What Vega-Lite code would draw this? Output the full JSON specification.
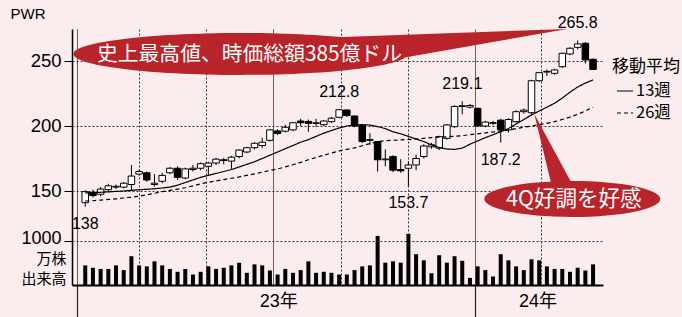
{
  "$schema": "https://vega.github.io/schema/vega-lite/v6.json",
  "width": 531,
  "height": 256,
  "autosize": {"type": "none"},
  "padding": {"left": 72, "top": 29, "right": 79, "bottom": 32},
  "background": "#fbeced",
  "config": {"view": {"stroke": null}},
  "datasets": {
    "candles": [
      {"d":"2023-01-11","o":141,"h":150.5,"l":138,"c":149.5,"v":446},
      {"d":"2023-01-18","o":149,"h":151,"l":145,"c":146.5,"v":392},
      {"d":"2023-01-25","o":147.5,"h":153,"l":146,"c":151.5,"v":365},
      {"d":"2023-02-01","o":151,"h":155.5,"l":150,"c":154,"v":365},
      {"d":"2023-02-08","o":153,"h":155,"l":151.5,"c":153.6,"v":446},
      {"d":"2023-02-15","o":153,"h":157,"l":152,"c":156,"v":339},
      {"d":"2023-02-22","o":155,"h":170,"l":150,"c":161.5,"v":654},
      {"d":"2023-03-01","o":163,"h":166.5,"l":162,"c":165,"v":446},
      {"d":"2023-03-08","o":164,"h":165,"l":157,"c":158.5,"v":423},
      {"d":"2023-03-15","o":155,"h":163,"l":153.5,"c":156,"v":538},
      {"d":"2023-03-22","o":157.5,"h":164,"l":156,"c":162,"v":446},
      {"d":"2023-03-29","o":164,"h":168.5,"l":163,"c":167.5,"v":365},
      {"d":"2023-04-05","o":167.5,"h":169,"l":158.5,"c":160.5,"v":300},
      {"d":"2023-04-12","o":160,"h":168,"l":159,"c":167,"v":365},
      {"d":"2023-04-19","o":166.5,"h":170,"l":165,"c":167.5,"v":238},
      {"d":"2023-04-26","o":167.5,"h":172,"l":166,"c":171,"v":300},
      {"d":"2023-05-03","o":169,"h":172.5,"l":162.5,"c":171.5,"v":423},
      {"d":"2023-05-10","o":171.5,"h":175.5,"l":170,"c":174.5,"v":365},
      {"d":"2023-05-17","o":174,"h":175.5,"l":170.5,"c":173.5,"v":392},
      {"d":"2023-05-24","o":173,"h":177,"l":167,"c":176,"v":446},
      {"d":"2023-05-31","o":176.5,"h":182,"l":175,"c":181.5,"v":505},
      {"d":"2023-06-07","o":180,"h":184,"l":179,"c":183.3,"v":277},
      {"d":"2023-06-14","o":183.3,"h":187.5,"l":182,"c":186.7,"v":469},
      {"d":"2023-06-21","o":185,"h":191,"l":183,"c":187.5,"v":446},
      {"d":"2023-06-28","o":189,"h":197.5,"l":188,"c":197,"v":330},
      {"d":"2023-07-05","o":196.2,"h":197.5,"l":193,"c":194.2,"v":238},
      {"d":"2023-07-12","o":196,"h":201,"l":195,"c":199,"v":365},
      {"d":"2023-07-19","o":197,"h":203,"l":196,"c":202.5,"v":277},
      {"d":"2023-07-26","o":203.8,"h":205.5,"l":200,"c":202.5,"v":339},
      {"d":"2023-08-02","o":203.5,"h":205,"l":195.5,"c":202,"v":538},
      {"d":"2023-08-09","o":202,"h":205.5,"l":199.5,"c":202.5,"v":277},
      {"d":"2023-08-16","o":201,"h":204.5,"l":200,"c":203.8,"v":300},
      {"d":"2023-08-23","o":203.3,"h":207,"l":202.5,"c":206,"v":277},
      {"d":"2023-08-30","o":206.7,"h":212.8,"l":206,"c":212.5,"v":238},
      {"d":"2023-09-06","o":212.3,"h":212.8,"l":207,"c":208,"v":238},
      {"d":"2023-09-13","o":207.7,"h":208,"l":199,"c":200,"v":339},
      {"d":"2023-09-20","o":200.5,"h":201,"l":187,"c":188,"v":423},
      {"d":"2023-09-27","o":189.5,"h":194.5,"l":185.5,"c":189,"v":446},
      {"d":"2023-10-04","o":188,"h":188.5,"l":165,"c":174,"v":1115},
      {"d":"2023-10-11","o":174,"h":182,"l":169,"c":174.6,"v":508},
      {"d":"2023-10-18","o":176.5,"h":177.5,"l":164.5,"c":166,"v":538},
      {"d":"2023-10-25","o":166.5,"h":174.5,"l":164,"c":165.5,"v":508},
      {"d":"2023-11-01","o":167.5,"h":173,"l":153.7,"c":170,"v":1162},
      {"d":"2023-11-08","o":170,"h":178,"l":166,"c":175,"v":700},
      {"d":"2023-11-15","o":176.5,"h":186,"l":175,"c":184.6,"v":561},
      {"d":"2023-11-22","o":184,"h":187,"l":182.5,"c":185.5,"v":268},
      {"d":"2023-11-29","o":183,"h":192.5,"l":181.5,"c":191.8,"v":677},
      {"d":"2023-12-06","o":190.5,"h":201.5,"l":189.5,"c":200.8,"v":508},
      {"d":"2023-12-13","o":199.5,"h":216,"l":198.5,"c":215,"v":654},
      {"d":"2023-12-20","o":215,"h":219.1,"l":209,"c":215.6,"v":550},
      {"d":"2023-12-27","o":214.5,"h":217,"l":213.5,"c":215.8,"v":161},
      {"d":"2024-01-03","o":213.6,"h":214,"l":199.5,"c":200,"v":423},
      {"d":"2024-01-10","o":200,"h":204,"l":199,"c":203,"v":339},
      {"d":"2024-01-17","o":202,"h":204,"l":200.5,"c":202.6,"v":192},
      {"d":"2024-01-24","o":204.5,"h":205.5,"l":187.2,"c":197,"v":700},
      {"d":"2024-01-31","o":197,"h":206,"l":195,"c":205,"v":561},
      {"d":"2024-02-07","o":203.3,"h":212,"l":202.5,"c":211,"v":423},
      {"d":"2024-02-14","o":211,"h":213.5,"l":209.5,"c":212.2,"v":339},
      {"d":"2024-02-21","o":210.2,"h":235.5,"l":208.5,"c":234.8,"v":585},
      {"d":"2024-02-28","o":234.8,"h":241.5,"l":234,"c":241,"v":561},
      {"d":"2024-03-06","o":241.5,"h":243.5,"l":238.5,"c":242,"v":423},
      {"d":"2024-03-13","o":240.5,"h":244,"l":239.5,"c":243.1,"v":365},
      {"d":"2024-03-20","o":245.6,"h":256.5,"l":244.5,"c":255.9,"v":365},
      {"d":"2024-03-27","o":255.4,"h":260.5,"l":254.5,"c":259.8,"v":300},
      {"d":"2024-04-03","o":260.5,"h":265.8,"l":259,"c":263.1,"v":392},
      {"d":"2024-04-10","o":263.6,"h":264.5,"l":248,"c":250.8,"v":330},
      {"d":"2024-04-17","o":251.3,"h":252,"l":243.1,"c":243.5,"v":469}
    ],
    "ma": [
      {"d":"2023-01-11","k":"13週","p":148.5},{"d":"2023-01-18","k":"13週","p":148.7},{"d":"2023-01-25","k":"13週","p":149},{"d":"2023-02-01","k":"13週","p":149.3},
      {"d":"2023-02-08","k":"13週","p":149.7},{"d":"2023-02-15","k":"13週","p":150},{"d":"2023-02-22","k":"13週","p":150.5},{"d":"2023-03-01","k":"13週","p":151},
      {"d":"2023-03-08","k":"13週","p":151.3},{"d":"2023-03-15","k":"13週","p":151.7},{"d":"2023-03-22","k":"13週","p":152.3},{"d":"2023-03-29","k":"13週","p":153},
      {"d":"2023-04-05","k":"13週","p":154.5},{"d":"2023-04-12","k":"13週","p":156.5},{"d":"2023-04-19","k":"13週","p":158.5},{"d":"2023-04-26","k":"13週","p":160.5},
      {"d":"2023-05-03","k":"13週","p":162},{"d":"2023-05-10","k":"13週","p":163.5},{"d":"2023-05-17","k":"13週","p":165},{"d":"2023-05-24","k":"13週","p":166.5},
      {"d":"2023-05-31","k":"13週","p":168.5},{"d":"2023-06-07","k":"13週","p":170.5},{"d":"2023-06-14","k":"13週","p":172.5},{"d":"2023-06-21","k":"13週","p":175},
      {"d":"2023-06-28","k":"13週","p":177.5},{"d":"2023-07-05","k":"13週","p":180},{"d":"2023-07-12","k":"13週","p":182.5},{"d":"2023-07-19","k":"13週","p":185},
      {"d":"2023-07-26","k":"13週","p":187.5},{"d":"2023-08-02","k":"13週","p":189.5},{"d":"2023-08-09","k":"13週","p":192},{"d":"2023-08-16","k":"13週","p":194.5},
      {"d":"2023-08-23","k":"13週","p":196.5},{"d":"2023-08-30","k":"13週","p":198.5},{"d":"2023-09-06","k":"13週","p":200},{"d":"2023-09-13","k":"13週","p":200.8},
      {"d":"2023-09-20","k":"13週","p":201},{"d":"2023-09-27","k":"13週","p":200.7},{"d":"2023-10-04","k":"13週","p":199.5},{"d":"2023-10-11","k":"13週","p":198},
      {"d":"2023-10-18","k":"13週","p":195.5},{"d":"2023-10-25","k":"13週","p":194},{"d":"2023-11-01","k":"13週","p":192},{"d":"2023-11-08","k":"13週","p":190},
      {"d":"2023-11-15","k":"13週","p":188},{"d":"2023-11-22","k":"13週","p":185.5},{"d":"2023-11-29","k":"13週","p":183.5},{"d":"2023-12-06","k":"13週","p":182.3},
      {"d":"2023-12-13","k":"13週","p":182},{"d":"2023-12-20","k":"13週","p":183},{"d":"2023-12-27","k":"13週","p":186},{"d":"2024-01-03","k":"13週","p":188.5},
      {"d":"2024-01-10","k":"13週","p":191},{"d":"2024-01-17","k":"13週","p":193.3},{"d":"2024-01-24","k":"13週","p":195.6},{"d":"2024-01-31","k":"13週","p":198},
      {"d":"2024-02-07","k":"13週","p":201.5},{"d":"2024-02-14","k":"13週","p":205},{"d":"2024-02-21","k":"13週","p":208.5},{"d":"2024-02-28","k":"13週","p":211.5},
      {"d":"2024-03-06","k":"13週","p":214.5},{"d":"2024-03-13","k":"13週","p":217.5},{"d":"2024-03-20","k":"13週","p":221.5},{"d":"2024-03-27","k":"13週","p":226},
      {"d":"2024-04-03","k":"13週","p":230},{"d":"2024-04-10","k":"13週","p":233},{"d":"2024-04-17","k":"13週","p":235.5},
      {"d":"2023-01-11","k":"26週","p":142.3},{"d":"2023-01-18","k":"26週","p":142.5},{"d":"2023-01-25","k":"26週","p":143},{"d":"2023-02-01","k":"26週","p":143.5},
      {"d":"2023-02-08","k":"26週","p":144},{"d":"2023-02-15","k":"26週","p":144.6},{"d":"2023-02-22","k":"26週","p":145.2},{"d":"2023-03-01","k":"26週","p":146},
      {"d":"2023-03-08","k":"26週","p":147},{"d":"2023-03-15","k":"26週","p":148.2},{"d":"2023-03-22","k":"26週","p":149.5},{"d":"2023-03-29","k":"26週","p":150.5},
      {"d":"2023-04-05","k":"26週","p":151.5},{"d":"2023-04-12","k":"26週","p":152.5},{"d":"2023-04-19","k":"26週","p":154},{"d":"2023-04-26","k":"26週","p":155.5},
      {"d":"2023-05-03","k":"26週","p":156.7},{"d":"2023-05-10","k":"26週","p":157.8},{"d":"2023-05-17","k":"26週","p":158.8},{"d":"2023-05-24","k":"26週","p":159.8},
      {"d":"2023-05-31","k":"26週","p":160.8},{"d":"2023-06-07","k":"26週","p":162},{"d":"2023-06-14","k":"26週","p":163.2},{"d":"2023-06-21","k":"26週","p":164.5},
      {"d":"2023-06-28","k":"26週","p":165.8},{"d":"2023-07-05","k":"26週","p":167},{"d":"2023-07-12","k":"26週","p":168.5},{"d":"2023-07-19","k":"26週","p":170.2},
      {"d":"2023-07-26","k":"26週","p":172},{"d":"2023-08-02","k":"26週","p":174},{"d":"2023-08-09","k":"26週","p":175.8},{"d":"2023-08-16","k":"26週","p":177.5},
      {"d":"2023-08-23","k":"26週","p":179.2},{"d":"2023-08-30","k":"26週","p":180.8},{"d":"2023-09-06","k":"26週","p":182},{"d":"2023-09-13","k":"26週","p":183.2},
      {"d":"2023-09-20","k":"26週","p":184.8},{"d":"2023-09-27","k":"26週","p":186.5},{"d":"2023-10-04","k":"26週","p":188},{"d":"2023-10-11","k":"26週","p":188.7},
      {"d":"2023-10-18","k":"26週","p":189},{"d":"2023-10-25","k":"26週","p":189.3},{"d":"2023-11-01","k":"26週","p":189.6},{"d":"2023-11-08","k":"26週","p":190},
      {"d":"2023-11-15","k":"26週","p":190.5},{"d":"2023-11-22","k":"26週","p":191},{"d":"2023-11-29","k":"26週","p":191.4},{"d":"2023-12-06","k":"26週","p":191.7},
      {"d":"2023-12-13","k":"26週","p":192},{"d":"2023-12-20","k":"26週","p":192.6},{"d":"2023-12-27","k":"26週","p":193.3},{"d":"2024-01-03","k":"26週","p":194},
      {"d":"2024-01-10","k":"26週","p":194.7},{"d":"2024-01-17","k":"26週","p":195.4},{"d":"2024-01-24","k":"26週","p":196.2},{"d":"2024-01-31","k":"26週","p":197},
      {"d":"2024-02-07","k":"26週","p":198},{"d":"2024-02-14","k":"26週","p":199},{"d":"2024-02-21","k":"26週","p":200},{"d":"2024-02-28","k":"26週","p":201},
      {"d":"2024-03-06","k":"26週","p":202},{"d":"2024-03-13","k":"26週","p":203.3},{"d":"2024-03-20","k":"26週","p":205},{"d":"2024-03-27","k":"26週","p":206.8},
      {"d":"2024-04-03","k":"26週","p":209},{"d":"2024-04-10","k":"26週","p":211.5},{"d":"2024-04-17","k":"26週","p":214.4}
    ],
    "notes": [
      {"d":"2023-01-11","p":138,"t":"138","pos":"lo"},
      {"d":"2023-08-30","p":212.8,"t":"212.8","pos":"hi"},
      {"d":"2023-11-01","p":153.7,"t":"153.7","pos":"lo"},
      {"d":"2023-12-20","p":219.1,"t":"219.1","pos":"hi"},
      {"d":"2024-01-24","p":187.2,"t":"187.2","pos":"lo"},
      {"d":"2024-04-03","p":265.8,"t":"265.8","pos":"hi"}
    ],
    "callouts": [
      {"d":"2024-04-03","p":265.8,"t":"史上最高値、時価総額385億ドル","id":"a"},
      {"d":"2024-02-21","p":208.5,"t":"4Q好調を好感","id":"b"}
    ]
  },
  "layer": [
    {
      "layer": [
        {
          "data": {"name": "candles"},
          "mark": {"type": "rule", "color": "black", "strokeWidth": 1},
          "encoding": {
            "x": {"field": "d", "type": "temporal", "title": null,
              "scale": {"type": "utc", "domain": [{"year":2023,"month":1,"date":3,"hours":12,"utc":true},{"year":2024,"month":4,"date":21,"hours":12,"utc":true}]},
              "axis": {
                "values": [
                  {"year":2023,"month":1,"date":3,"hours":12,"utc":true},
                  {"year":2023,"month":2,"date":1,"utc":true},{"year":2023,"month":3,"date":1,"utc":true},{"year":2023,"month":4,"date":1,"utc":true},
                  {"year":2023,"month":5,"date":1,"utc":true},{"year":2023,"month":6,"date":1,"utc":true},{"year":2023,"month":7,"date":1,"utc":true},
                  {"year":2023,"month":8,"date":1,"utc":true},{"year":2023,"month":9,"date":1,"utc":true},{"year":2023,"month":10,"date":1,"utc":true},
                  {"year":2023,"month":11,"date":1,"utc":true},{"year":2023,"month":12,"date":1,"utc":true},{"year":2024,"month":1,"date":1,"utc":true},
                  {"year":2024,"month":2,"date":1,"utc":true},{"year":2024,"month":3,"date":1,"utc":true},{"year":2024,"month":4,"date":1,"utc":true}
                ],
                "grid": true, "gridColor": "#333", "gridWidth": 1,
                "gridDash": {"condition": {"test": "utcmonth(datum.value) % 3 === 0", "value": [1, 0]}, "value": [2, 2]},
                "domain": true, "domainColor": "black", "domainWidth": 2,
                "ticks": true, "tickSize": 32, "tickColor": "#222", "tickWidth": 1.2,
                "tickOpacity": {"condition": {"test": "utcmonth(datum.value) === 0", "value": 1}, "value": 0},
                "labelExpr": "utcyear(datum.value) === 2023 && utcmonth(datum.value) === 6 ? '23年' : (utcyear(datum.value) === 2024 && utcmonth(datum.value) === 2 ? '24年' : '')",
                "labelOverlap": false, "labelFlush": false, "labelBaseline": "middle", "labelPadding": -15.5,
                "labelFontSize": 18, "labelFont": "Liberation Sans, Noto Sans CJK JP", "labelColor": "black",
                "labelOffset": {"condition": {"test": "utcyear(datum.value) === 2023", "value": 5}, "value": -4}
              }
            },
            "y": {"field": "l", "type": "quantitative", "title": "PWR",
              "scale": {"domain": [77.7, 274.6], "nice": false, "zero": false},
              "axis": {"orient": "left", "values": [150, 200, 250],
                "titleAngle": 0, "titleAlign": "left", "titleBaseline": "alphabetic", "titleX": -62, "titleY": -11,
                "titleFontSize": 15, "titleFontWeight": "normal", "titleFont": "Liberation Sans", "titleColor": "black",
                "grid": true, "gridDash": [2, 2], "gridColor": "#333",
                "domain": true, "domainColor": "black", "domainWidth": 1.5,
                "tickSize": 8, "tickColor": "black", "labelFontSize": 18.5, "labelFont": "Liberation Sans", "labelColor": "black", "labelPadding": 3}
            },
            "y2": {"field": "h"}
          }
        },
        {
          "data": {"name": "candles"},
          "mark": {"type": "bar", "size": 6.5, "stroke": "black", "strokeWidth": 1},
          "encoding": {
            "x": {"field": "d", "type": "temporal", "title": null},
            "y": {"field": "o", "type": "quantitative", "title": "PWR"},
            "y2": {"field": "c"},
            "fill": {"condition": {"test": "datum.c >= datum.o", "value": "white"}, "value": "black"}
          }
        },
        {
          "data": {"name": "ma"},
          "mark": {"type": "line", "color": "black", "strokeWidth": 1.2},
          "encoding": {
            "x": {"field": "d", "type": "temporal", "title": null},
            "y": {"field": "p", "type": "quantitative", "title": "PWR"},
            "strokeDash": {"field": "k", "type": "nominal",
              "scale": {"domain": ["13週", "26週"], "range": [[1, 0], [4, 3]]},
              "legend": {"title": "移動平均", "orient": "none", "legendX": 540, "legendY": 30,
                "titleFont": "Noto Sans CJK JP", "titleFontSize": 17, "titleFontWeight": "normal", "titleColor": "black", "titlePadding": 6,
                "labelFont": "Noto Sans CJK JP", "labelFontSize": 16.5, "labelColor": "black", "labelOffset": 2,
                "symbolType": "stroke", "symbolSize": 256, "symbolStrokeWidth": 1.2, "symbolStrokeColor": "black", "symbolOffset": 4,
                "rowPadding": 4, "padding": 0}
            }
          }
        },
        {
          "data": {"name": "notes"},
          "transform": [{"filter": "datum.pos === 'hi'"}],
          "mark": {"type": "text", "dy": -17, "fontSize": 16, "font": "Liberation Sans", "color": "black", "baseline": "middle"},
          "encoding": {
            "x": {"field": "d", "type": "temporal", "title": null},
            "y": {"field": "p", "type": "quantitative", "title": "PWR"},
            "text": {"field": "t"}
          }
        },
        {
          "data": {"name": "notes"},
          "transform": [{"filter": "datum.pos === 'lo'"}],
          "mark": {"type": "text", "dy": 17, "fontSize": 16, "font": "Liberation Sans", "color": "black", "baseline": "middle"},
          "encoding": {
            "x": {"field": "d", "type": "temporal", "title": null},
            "y": {"field": "p", "type": "quantitative", "title": "PWR"},
            "text": {"field": "t"}
          }
        },
        {
          "data": {"name": "callouts"},
          "transform": [{"filter": "datum.id === 'a'"}],
          "mark": {"type": "point", "filled": true, "opacity": 1, "size": 4, "strokeWidth": 0, "color": "#b8242a",
            "shape": "M -504.2 13.5 A 167 21 0 1 1 -170.2 13.5 A 167 21 0 1 1 -504.2 13.5 Z M -262.2 -2.5 L -10.2 -11.5 L -187.2 19.5 Z"},
          "encoding": {
            "x": {"field": "d", "type": "temporal", "title": null},
            "y": {"field": "p", "type": "quantitative", "title": "PWR"}
          }
        },
        {
          "data": {"name": "callouts"},
          "transform": [{"filter": "datum.id === 'b'"}],
          "mark": {"type": "point", "filled": true, "opacity": 1, "size": 4, "strokeWidth": 0, "color": "#b8242a",
            "shape": "M -47.2 84 A 88 18 0 1 1 128.8 84 A 88 18 0 1 1 -47.2 84 Z M 20.8 73 L 2.8 -1 L 42.8 73 Z"},
          "encoding": {
            "x": {"field": "d", "type": "temporal", "title": null},
            "y": {"field": "p", "type": "quantitative", "title": "PWR"}
          }
        },
        {
          "data": {"name": "callouts"},
          "transform": [{"filter": "datum.id === 'a'"}],
          "mark": {"type": "text", "dx": -328.2, "dy": 14.5, "fontSize": 20.8, "font": "Noto Sans CJK JP", "color": "white", "align": "center", "baseline": "middle"},
          "encoding": {
            "x": {"field": "d", "type": "temporal", "title": null},
            "y": {"field": "p", "type": "quantitative", "title": "PWR"},
            "text": {"field": "t"}
          }
        },
        {
          "data": {"name": "callouts"},
          "transform": [{"filter": "datum.id === 'b'"}],
          "mark": {"type": "text", "dx": 42.3, "dy": 85, "fontSize": 21.5, "font": "Noto Sans CJK JP", "color": "white", "align": "center", "baseline": "middle"},
          "encoding": {
            "x": {"field": "d", "type": "temporal", "title": null},
            "y": {"field": "p", "type": "quantitative", "title": "PWR"},
            "text": {"field": "t"}
          }
        }
      ]
    },
    {
      "data": {"name": "candles"},
      "mark": {"type": "bar", "size": 4, "color": "black"},
      "encoding": {
        "x": {"field": "d", "type": "temporal", "title": null},
        "y": {"field": "v", "type": "quantitative", "title": ["万株", "出来高"],
          "scale": {"domain": [0, 5818], "nice": false},
          "axis": {"orient": "left", "values": [1000], "format": "d",
            "titleAngle": 0, "titleAlign": "right", "titleBaseline": "middle", "titleX": -6, "titleY": 229, "titleLineHeight": 20,
            "titleFontSize": 15, "titleFont": "Noto Sans CJK JP", "titleFontWeight": "normal", "titleColor": "black",
            "grid": true, "gridDash": [2, 2], "gridColor": "#333", "domain": false,
            "tickSize": 8, "tickColor": "black", "labelFontSize": 18, "labelFont": "Liberation Sans", "labelColor": "black", "labelPadding": 3, "labelOffset": -2}
        }
      }
    }
  ],
  "resolve": {"scale": {"y": "independent"}, "axis": {"y": "independent"}}
}
